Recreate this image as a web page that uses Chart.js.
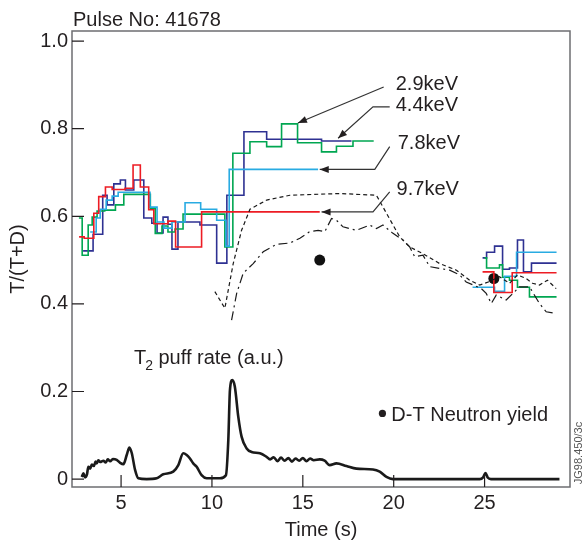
<!DOCTYPE html>
<html>
<head>
<meta charset="utf-8">
<script src="https://cdn.jsdelivr.net/npm/chart.js@4"></script>
<style>
  body { margin: 0; background: #fff; }
  #wrap { width: 582px; height: 545px; }
</style>
</head>
<body>
<div id="wrap"><canvas id="chart" width="582" height="545"></canvas></div>
<script>
// axis ticks
const xTicks = [5, 10, 15, 20, 25];
const yTicks = [0, 0.2, 0.4, 0.6, 0.8, 1.0];

// T/(T+D) step traces (time s, ratio); null splits the two time windows
const blueT = [2.91, 3.46, 3.99, 4.23, 4.60, 4.96, 5.24, 5.70, 6.25, 6.69, 6.98, 7.31, 7.58, 7.80, 8.13, 9.34, 10.26, 10.82, 11.76, 13.01, 16.03, 17.68, 20, 24.89, 25.11, 25.55, 25.99, 26.37, 26.81, 27.14, 27.58, 28.96];
const blueV = [0.521, 0.559, 0.648, 0.626, 0.674, 0.683, 0.660, 0.683, 0.596, 0.584, 0.562, 0.598, 0.582, 0.525, 0.587, 0.580, 0.493, 0.648, 0.793, 0.776, 0.772, 0.772, null, 0.505, 0.518, 0.532, 0.479, 0.482, 0.546, 0.473, 0.493, 0.493];

const greenT = [2.68, 2.86, 3.19, 3.41, 3.68, 4.10, 4.69, 5.15, 6.61, 6.88, 7.25, 7.58, 7.97, 8.41, 10.71, 11.15, 12.09, 13.01, 13.83, 14.71, 16.03, 16.85, 17.76, 18.90, 21, 25.00, 25.11, 25.82, 25.99, 26.37, 26.81, 27.47, 28.96];
const greenV = [0.596, 0.511, 0.580, 0.598, 0.612, 0.614, 0.626, 0.650, 0.618, 0.561, 0.578, 0.564, 0.571, 0.605, 0.530, 0.744, 0.770, 0.759, 0.811, 0.768, 0.747, 0.760, 0.772, 0.772, null, 0.505, 0.482, 0.489, 0.461, 0.454, 0.438, 0.416, 0.416];

const cyanT = [3.30, 3.63, 3.85, 4.18, 4.51, 4.84, 5.22, 6.59, 6.98, 7.36, 7.80, 8.52, 9.38, 10.26, 10.77, 10.95, 15.84, 20, 24.34, 25.55, 26.10, 26.76, 28.96];
const cyanV = [0.564, 0.596, 0.616, 0.637, 0.646, 0.655, 0.655, 0.621, 0.587, 0.573, 0.587, 0.631, 0.616, 0.591, 0.532, 0.707, 0.707, null, 0.438, 0.429, 0.463, 0.518, 0.518];

const redT = [2.69, 2.97, 3.50, 3.77, 4.14, 4.51, 5.22, 5.66, 6.06, 6.52, 6.80, 7.58, 8.0, 9.43, 15.93, 20, 24.89, 25.51, 26.52, 28.96];
const redV = [0.553, 0.550, 0.607, 0.645, 0.667, 0.661, 0.664, 0.717, 0.667, 0.615, 0.583, 0.589, 0.530, 0.610, 0.610, null, 0.473, 0.426, 0.471, 0.471];

// black dashed and dash-dot traces
const dashT = [10.16, 10.71, 11.17, 11.63, 12.09, 13.01, 14.29, 17.03, 19.05, 19.60, 20.33, 20.88, 21.59, 22.53, 23.45, 24.18, 24.73, 25.27, 25.82, 26.37, 26.81, 27.29, 27.64, 28.02, 28.46, 28.94];
const dashV = [0.428, 0.390, 0.492, 0.568, 0.616, 0.637, 0.648, 0.652, 0.648, 0.607, 0.553, 0.530, 0.515, 0.492, 0.477, 0.454, 0.443, 0.451, 0.462, 0.447, 0.466, 0.458, 0.447, 0.443, 0.454, 0.435];

const ddT = [11.08, 11.36, 11.72, 12.27, 12.82, 13.55, 14.29, 14.84, 15.38, 15.84, 16.21, 16.58, 16.85, 17.21, 17.95, 18.68, 19.05, 19.41, 19.96, 20.51, 20.88, 21.15, 21.61, 21.98, 22.53, 23.08, 23.63, 23.99, 24.82, 25.09, 25.37, 25.64, 26.19, 26.56, 26.92, 27.47, 28.02, 28.39, 28.94];
const ddV = [0.363, 0.424, 0.470, 0.492, 0.519, 0.536, 0.539, 0.550, 0.565, 0.568, 0.565, 0.595, 0.591, 0.576, 0.568, 0.580, 0.572, 0.580, 0.561, 0.546, 0.530, 0.508, 0.511, 0.485, 0.481, 0.477, 0.466, 0.450, 0.435, 0.424, 0.401, 0.420, 0.409, 0.424, 0.439, 0.439, 0.401, 0.382, 0.378];

// T2 puff rate (a.u.)
const puffT = [2.84, 2.93, 3.02, 3.12, 3.20, 3.30, 3.39, 3.50, 3.60, 3.66, 3.75, 3.85, 4.03, 4.15, 4.27, 4.40, 4.55, 4.76, 4.95, 5.13, 5.31, 5.46, 5.59, 5.77, 5.95, 6.41, 6.96, 7.32, 7.87, 8.15, 8.42, 8.61, 8.79, 8.97, 9.16, 9.43, 9.71, 10.44, 10.77, 10.90, 10.99, 11.12, 11.26, 11.45, 11.63, 11.91, 12.18, 12.64, 13.0, 13.2, 13.4, 13.6, 13.8, 14.0, 14.2, 14.4, 14.6, 14.8, 15.0, 15.2, 15.4, 15.6, 15.93, 16.2, 16.48, 16.85, 17.40, 17.95, 18.86, 19.23, 19.60, 19.96, 21.43, 24.73, 24.92, 25.05, 25.18, 25.35, 29.12];
const puffV = [0.005, 0.013, 0.004, 0.010, 0.028, 0.024, 0.033, 0.030, 0.040, 0.036, 0.043, 0.039, 0.042, 0.038, 0.045, 0.041, 0.046, 0.044, 0.037, 0.034, 0.055, 0.072, 0.059, 0.021, 0.002, 0.0, 0.002, 0.011, 0.017, 0.032, 0.059, 0.055, 0.047, 0.036, 0.028, 0.009, 0.002, 0.002, 0.009, 0.089, 0.203, 0.226, 0.211, 0.142, 0.097, 0.070, 0.062, 0.059, 0.051, 0.045, 0.050, 0.041, 0.049, 0.042, 0.048, 0.040, 0.047, 0.042, 0.048, 0.041, 0.047, 0.043, 0.045, 0.042, 0.032, 0.036, 0.030, 0.024, 0.022, 0.017, 0.005, 0.0, 0.0, 0.0, 0.004, 0.014, 0.003, 0.0, 0.0];

// D-T neutron yield
const neutronT = [15.93, 25.51];
const neutronV = [0.500, 0.458];

const INK = "#231f20";
const FONT = "'Liberation Sans', Arial, sans-serif";
Chart.defaults.font.family = FONT;
Chart.defaults.font.size = 20;
Chart.defaults.color = INK;

const pts = (t, v) => t.map((x, i) => ({ x, y: v[i] }));

function step(t, v, color) {
  return { data: pts(t, v), borderColor: color, borderWidth: 1.6, stepped: "before", pointRadius: 0, spanGaps: false, fill: false };
}

const frame = {
  id: "frame",
  afterDatasetsDraw(chart) {
    const { ctx, chartArea: a, scales: { x, y } } = chart;
    ctx.save();
    ctx.strokeStyle = "#6d6e71";
    ctx.lineWidth = 1.5;
    ctx.strokeRect(a.left, a.top, a.right - a.left, a.bottom - a.top);
    ctx.strokeStyle = INK;
    ctx.lineWidth = 1.2;
    ctx.beginPath();
    for (const v of yTicks) {
      const p = y.getPixelForValue(v);
      ctx.moveTo(a.left, p);
      ctx.lineTo(a.left + 12, p);
    }
    for (const v of xTicks) {
      const p = x.getPixelForValue(v);
      ctx.moveTo(p, a.bottom);
      ctx.lineTo(p, a.bottom - 12);
    }
    ctx.stroke();
    ctx.restore();
  }
};

// leader lines end in an arrowhead at the last point
const leaders = [
  { text: "2.9keV", at: [20.11, 0.888], path: [[19.45, 0.895], [14.73, 0.813]] },
  { text: "4.4keV", at: [20.11, 0.840], path: [[19.78, 0.850], [18.86, 0.850], [16.94, 0.778]] },
  { text: "7.8keV", at: [20.22, 0.753], path: [[19.78, 0.759], [18.96, 0.707], [15.93, 0.707]] },
  { text: "9.7keV", at: [20.16, 0.648], path: [[19.78, 0.656], [18.86, 0.610], [16.03, 0.610]] }
];

const notes = {
  id: "notes",
  afterDraw(chart) {
    const { ctx, chartArea: a, scales: { x, y } } = chart;
    const px = (v) => x.getPixelForValue(v);
    const py = (v) => y.getPixelForValue(v);
    ctx.save();
    ctx.fillStyle = INK;
    ctx.font = `20px ${FONT}`;
    ctx.textBaseline = "alphabetic";
    ctx.textAlign = "left";
    ctx.fillText("Pulse No: 41678", a.left + 1, a.top - 5);

    ctx.strokeStyle = "#333";
    ctx.lineWidth = 1.2;
    for (const l of leaders) {
      ctx.fillText(l.text, px(l.at[0]), py(l.at[1]));
      const p = l.path.map(([u, w]) => [px(u), py(w)]);
      ctx.beginPath();
      ctx.moveTo(p[0][0], p[0][1]);
      for (const q of p.slice(1)) ctx.lineTo(q[0], q[1]);
      ctx.stroke();
      const [x1, y1] = p[p.length - 2];
      const [x2, y2] = p[p.length - 1];
      const ang = Math.atan2(y2 - y1, x2 - x1);
      ctx.beginPath();
      ctx.moveTo(x2, y2);
      ctx.lineTo(x2 - 9 * Math.cos(ang) + 3.5 * Math.sin(ang), y2 - 9 * Math.sin(ang) - 3.5 * Math.cos(ang));
      ctx.lineTo(x2 - 9 * Math.cos(ang) - 3.5 * Math.sin(ang), y2 - 9 * Math.sin(ang) + 3.5 * Math.cos(ang));
      ctx.closePath();
      ctx.fill();
    }

    // T2 puff rate label with subscript
    const tx = px(5.71), ty = py(0.263);
    ctx.fillText("T", tx, ty);
    const wT = ctx.measureText("T").width;
    ctx.font = `14px ${FONT}`;
    ctx.fillText("2", tx + wT - 1, ty + 6);
    const w2 = ctx.measureText("2").width;
    ctx.font = `20px ${FONT}`;
    ctx.fillText("puff rate (a.u.)", tx + wT - 1 + w2 + 5.5, ty);

    // neutron yield key
    ctx.beginPath();
    ctx.arc(px(19.38), py(0.150), 3.6, 0, Math.PI * 2);
    ctx.fill();
    ctx.fillText("D-T Neutron yield", px(19.87), py(0.133));

    // figure reference
    ctx.font = `11px ${FONT}`;
    ctx.fillStyle = "#555";
    ctx.translate(chart.width - 3, a.bottom - 34);
    ctx.rotate(-Math.PI / 2);
    ctx.textAlign = "center";
    ctx.textBaseline = "middle";
    ctx.fillText("JG98.450/3c", 0, 0);
    ctx.restore();
  }
};

new Chart(document.getElementById("chart"), {
  type: "line",
  data: {
    datasets: [
      { data: pts(puffT, puffV), borderColor: "#1a1a1a", borderWidth: 2.6, cubicInterpolationMode: "monotone", pointRadius: 0, fill: false },
      { data: pts(ddT, ddV), borderColor: "#1a1a1a", borderWidth: 1.2, borderDash: [9, 4, 2, 4], pointRadius: 0, fill: false },
      { data: pts(dashT, dashV), borderColor: "#1a1a1a", borderWidth: 1.2, borderDash: [4, 3], pointRadius: 0, fill: false },
      step(redT, redV, "#ed1c24"),
      step(cyanT, cyanV, "#29abe2"),
      step(greenT, greenV, "#00a651"),
      step(blueT, blueV, "#2e3192"),
      { data: pts(neutronT, neutronV), showLine: false, pointRadius: 5.5, pointBackgroundColor: "#111", pointBorderWidth: 0 }
    ]
  },
  options: {
    responsive: false,
    animation: false,
    layout: { padding: { top: 31, right: 12, left: 0, bottom: 0 } },
    plugins: { legend: { display: false }, tooltip: { enabled: false } },
    scales: {
      x: {
        type: "linear",
        min: 2.3,
        max: 29.7,
        afterBuildTicks: (s) => { s.ticks = xTicks.map((value) => ({ value })); },
        afterFit: (s) => { s.height = 58; },
        grid: { display: false, drawTicks: false },
        border: { display: false },
        ticks: { padding: 4, autoSkip: false, maxRotation: 0 },
        title: { display: true, text: "Time (s)", padding: { top: 0, bottom: 3 } }
      },
      y: {
        min: -0.018,
        max: 1.023,
        afterBuildTicks: (s) => { s.ticks = yTicks.map((value) => ({ value })); },
        afterFit: (s) => { s.width = 72; },
        grid: { display: false, drawTicks: false },
        border: { display: false },
        ticks: { padding: 4, callback: (v) => (v === 0 ? "0" : v.toFixed(1)) },
        title: { display: true, text: "T/(T+D)", padding: { top: 6, bottom: 0 } }
      }
    }
  },
  plugins: [frame, notes]
});
</script>
</body>
</html>
